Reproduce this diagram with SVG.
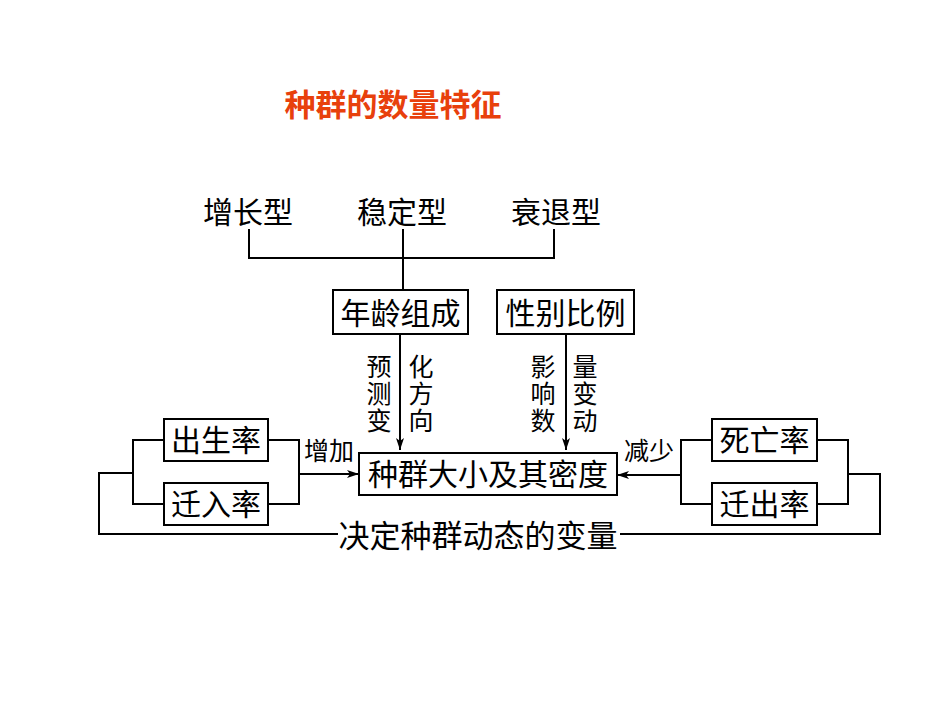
<svg xmlns="http://www.w3.org/2000/svg" width="950" height="713" viewBox="0 0 950 713">
<style>
text{font-family:"Liberation Serif","Noto Sans CJK SC",serif;fill:#000;dominant-baseline:central;text-anchor:middle}
.t{font-size:30px}
.s{font-size:25px}
.lp{font-size:31px}
.box{fill:#fff;stroke:#000;stroke-width:2}
.ln{fill:none;stroke:#000;stroke-width:2}
</style>
<defs>
<marker id="ar" viewBox="0 0 12 8" refX="12" refY="4" markerWidth="12" markerHeight="8" markerUnits="userSpaceOnUse" orient="auto">
<path d="M0,0 L12,4 L0,8 L3,4 Z" fill="#000"/>
</marker>
</defs>
<rect width="950" height="713" fill="#fff"/>
<text id="title" x="393" y="105" style="font-size:31px;fill:#e8400c;font-weight:bold">种群的数量特征</text>
<g id="connectors">
<path class="ln" d="M249,229 V258 H554 V229 M403,229 V290"/>
<path class="ln" d="M400,334 V450" marker-end="url(#ar)"/>
<path class="ln" d="M566,334 V450" marker-end="url(#ar)"/>
<path class="ln" d="M164,440 H133 V504 H164 M268,440 H299 V504 H268"/>
<path class="ln" d="M299,474 H359" marker-end="url(#ar)"/>
<path class="ln" d="M712,440 H681 V504 H712 M817,440 H848 V504 H817"/>
<path class="ln" d="M681,475 H617" marker-end="url(#ar)"/>
<path class="ln" d="M133,473 H99 V534 H338 M620,534 H880 V474 H848"/>
</g>
<g id="n-zengzhang"><text class="t" x="248" y="212">增长型</text></g>
<g id="n-wending"><text class="t" x="402" y="212">稳定型</text></g>
<g id="n-shuaitui"><text class="t" x="556" y="212">衰退型</text></g>
<g id="n-age"><rect class="box" x="333" y="290" width="135" height="44"/><text class="t" x="400.5" y="313">年龄组成</text></g>
<g id="n-sex"><rect class="box" x="497" y="290" width="137" height="44"/><text class="t" x="565.5" y="313">性别比例</text></g>
<g id="lbl-age">
<text class="s" x="379" y="367">预</text><text class="s" x="379" y="394">测</text><text class="s" x="379" y="421">变</text>
<text class="s" x="421" y="367">化</text><text class="s" x="421" y="394">方</text><text class="s" x="421" y="421">向</text>
</g>
<g id="lbl-sex">
<text class="s" x="543" y="367">影</text><text class="s" x="543" y="394">响</text><text class="s" x="543" y="421">数</text>
<text class="s" x="585" y="367">量</text><text class="s" x="585" y="394">变</text><text class="s" x="585" y="421">动</text>
</g>
<g id="n-main"><rect class="box" x="359" y="453" width="258" height="42"/><text class="t" x="488" y="474">种群大小及其密度</text></g>
<g id="n-birth"><rect class="box" x="164" y="419" width="104" height="42"/><text class="t" x="216" y="440">出生率</text></g>
<g id="n-immig"><rect class="box" x="164" y="483" width="104" height="42"/><text class="t" x="216" y="504">迁入率</text></g>
<g id="n-death"><rect class="box" x="712" y="419" width="105" height="42"/><text class="t" x="764.5" y="440">死亡率</text></g>
<g id="n-emig"><rect class="box" x="712" y="483" width="105" height="42"/><text class="t" x="764.5" y="504">迁出率</text></g>
<g id="lbl-inc"><text class="s" x="329" y="451">增加</text></g>
<g id="lbl-dec"><text class="s" x="649" y="451">减少</text></g>
<g id="lbl-loop"><text class="lp" x="478" y="536">决定种群动态的变量</text></g>
</svg>
